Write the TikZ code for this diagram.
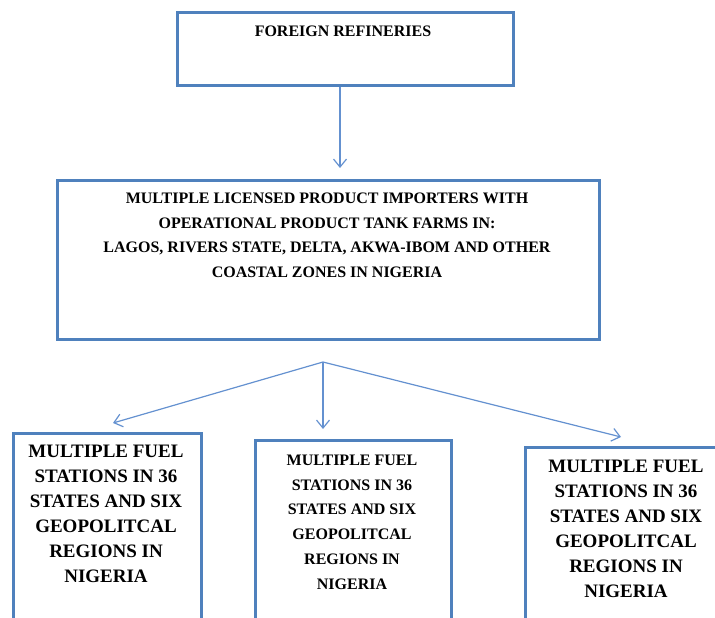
\documentclass[tikz,border=0pt]{standalone}
\usepackage{fontspec}
\setmainfont{Liberation Serif}
\usetikzlibrary{arrows.meta}
\definecolor{boxblue}{RGB}{79,129,189}
\definecolor{arrblue}{RGB}{100,145,208}
\begin{document}
\begin{tikzpicture}[x=1pt,y=-1pt,
  box/.style={draw=boxblue, line width=3pt, fill=none, inner sep=0pt, rectangle},
  txt/.style={align=center, inner sep=0pt, text=black},
  conn/.style={draw=arrblue, line width=1.2pt, -{Straight Barb[length=8pt,width=13pt,line width=1.2pt]}}]
\useasboundingbox (0,0) rectangle (715,618);
\clip (0,0) rectangle (715,618);
% boxes
\node[box, minimum width=336pt, minimum height=73pt, anchor=north west] (top) at (176,11) {};
\node[box, minimum width=542pt, minimum height=159pt, anchor=north west] (mid) at (56,179) {};
\node[box, minimum width=188pt, minimum height=220pt, anchor=north west] (s1) at (12,432) {};
\node[box, minimum width=196pt, minimum height=220pt, anchor=north west] (s2) at (254,439) {};
\node[box, minimum width=220pt, minimum height=220pt, anchor=north west] (s3) at (524,446) {};
% texts
\node[txt, font=\bfseries\fontsize{16}{24.7}\selectfont] (ttop) at (343,31) {FOREIGN REFINERIES};
\node[txt, font=\bfseries\fontsize{16}{24.7}\selectfont, anchor=north] (tmid) at (327,192.7) {MULTIPLE LICENSED PRODUCT IMPORTERS WITH\\OPERATIONAL PRODUCT TANK FARMS IN:\\LAGOS, RIVERS STATE, DELTA, AKWA-IBOM AND OTHER\\COASTAL ZONES IN NIGERIA};
\node[txt, font=\bfseries\fontsize{19}{25}\selectfont, anchor=north] (t1) at (106,444.7) {MULTIPLE FUEL\\STATIONS IN 36\\STATES AND SIX\\GEOPOLITCAL\\REGIONS IN\\NIGERIA};
\node[txt, font=\bfseries\fontsize{16}{24.8}\selectfont, anchor=north] (t2) at (352,454.7) {MULTIPLE FUEL\\STATIONS IN 36\\STATES AND SIX\\GEOPOLITCAL\\REGIONS IN\\NIGERIA};
\node[txt, font=\bfseries\fontsize{19}{25}\selectfont, anchor=north] (t3) at (626,459.7) {MULTIPLE FUEL\\STATIONS IN 36\\STATES AND SIX\\GEOPOLITCAL\\REGIONS IN\\NIGERIA};
% connectors
\coordinate (a1) at (340,168);
\draw[conn] (top.south -| a1) -- (a1);
\coordinate (hub) at (323,362);
\coordinate (e1) at (113,423);
\coordinate (e2) at (323,429);
\coordinate (e3) at (621,437);
\draw[conn] (hub) -- (e1);
\draw[conn] (hub) -- (e2);
\draw[conn] (hub) -- (e3);
\end{tikzpicture}
\end{document}
